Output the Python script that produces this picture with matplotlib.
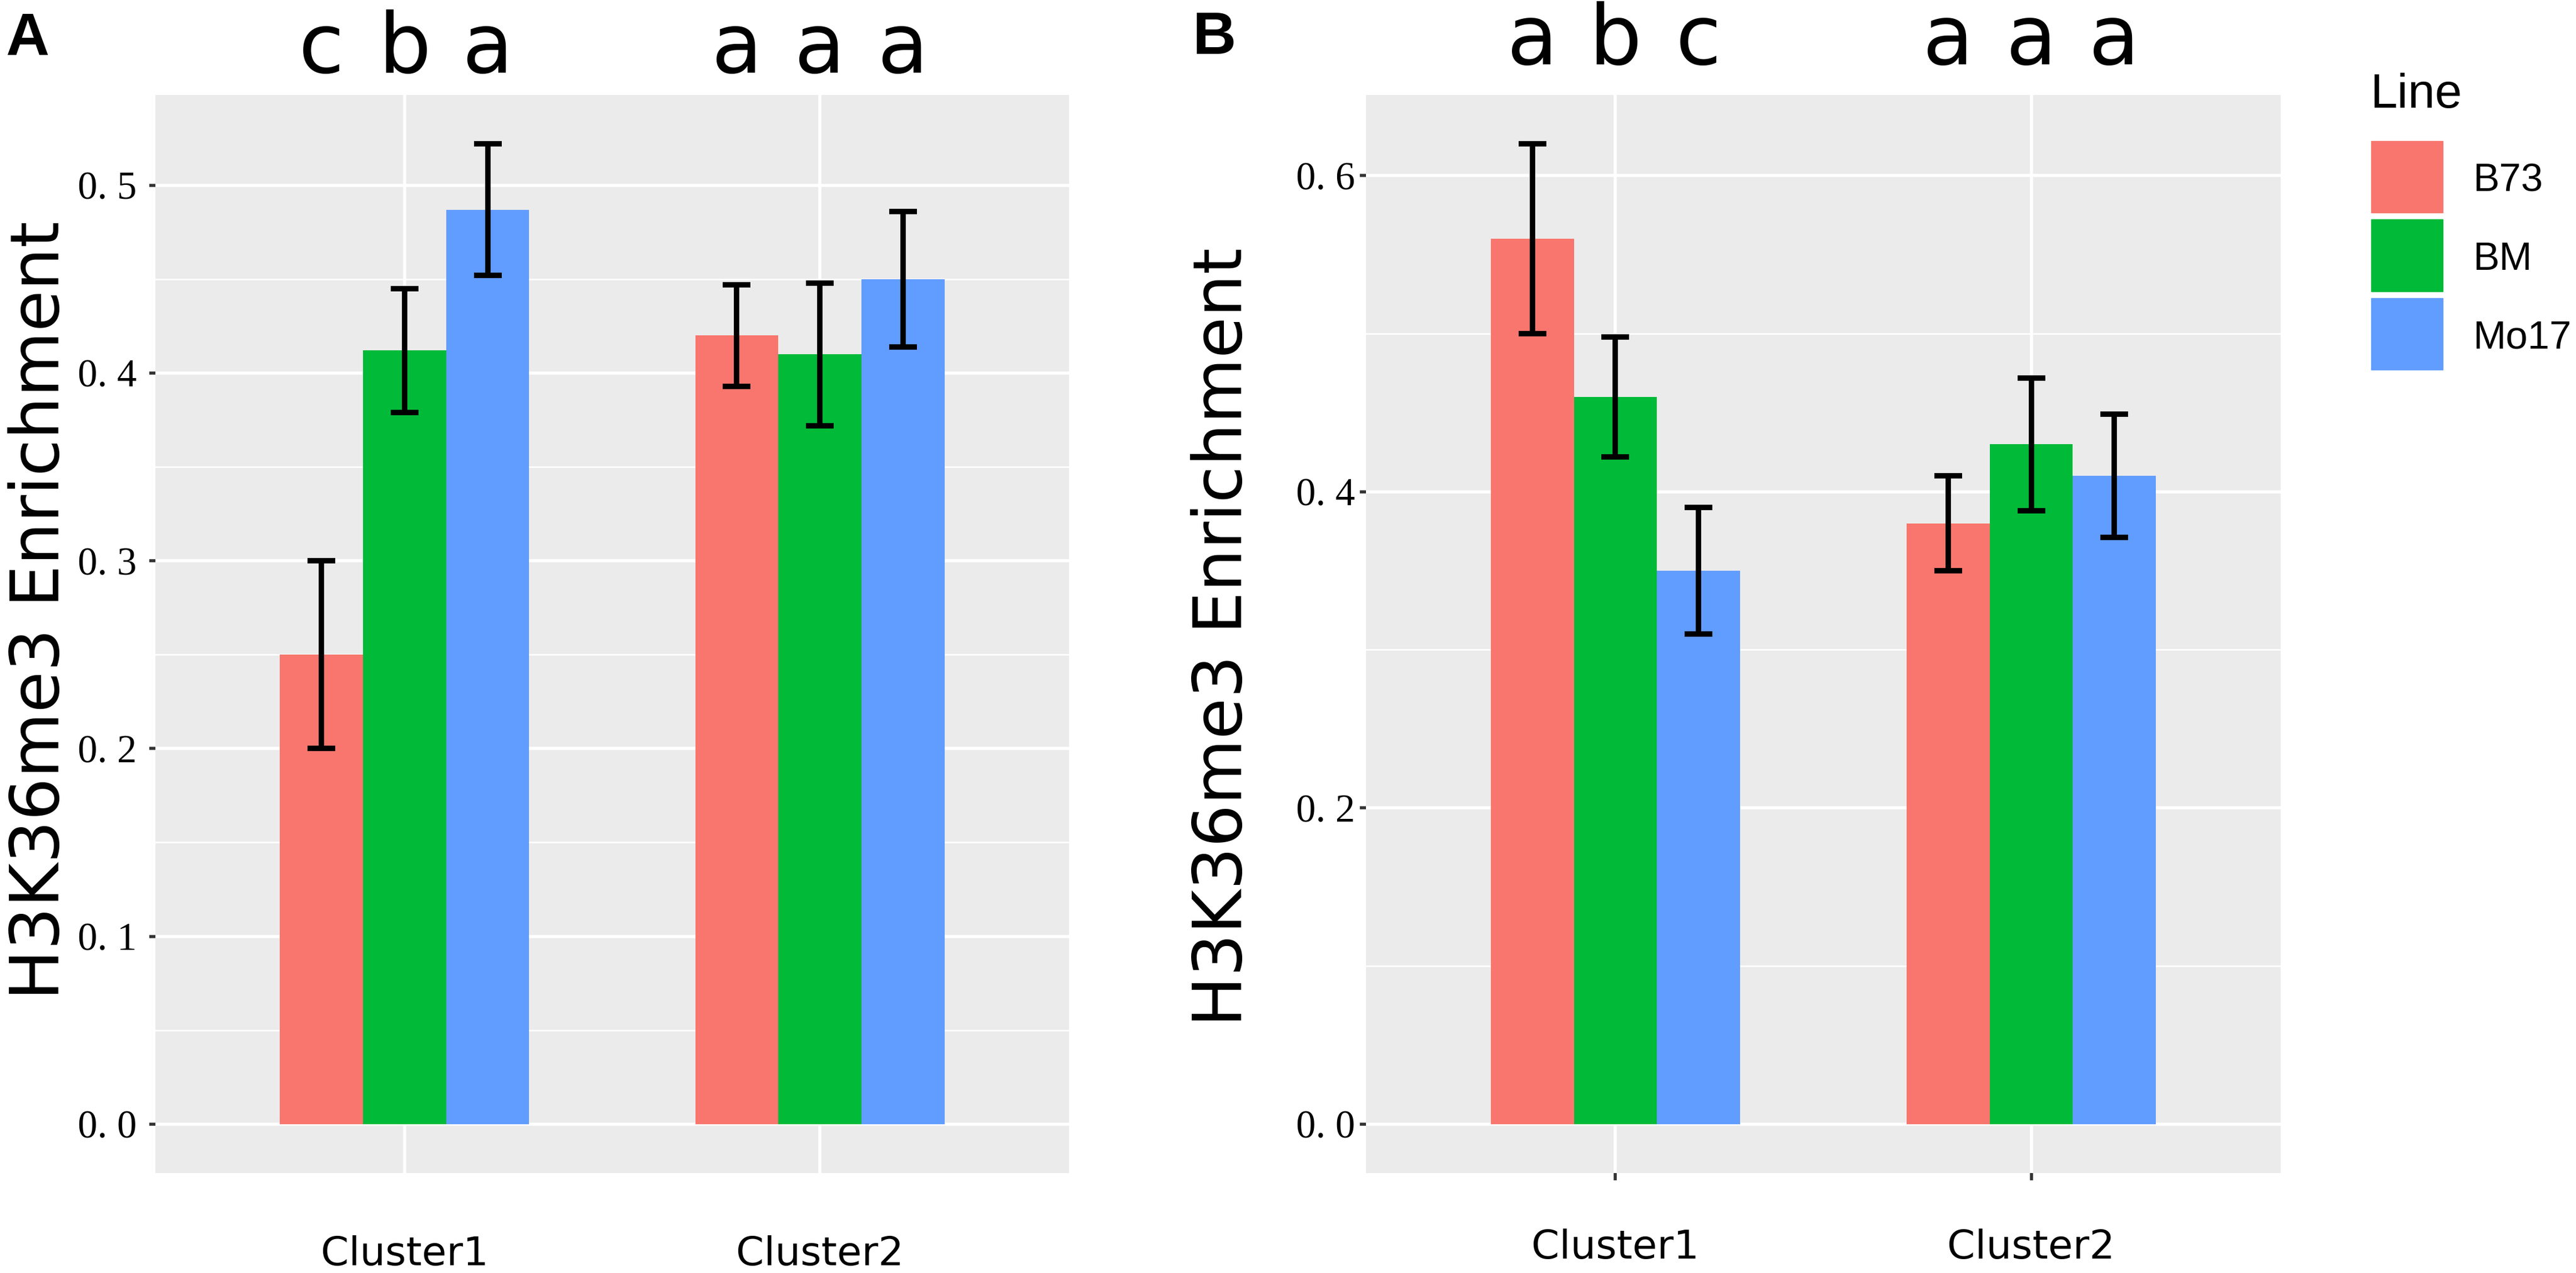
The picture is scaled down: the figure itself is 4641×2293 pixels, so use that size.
import numpy as np
import matplotlib.pyplot as plt
import matplotlib.transforms as mtransforms
from matplotlib.patches import Rectangle
from matplotlib.ticker import FuncFormatter, MultipleLocator

W, H = 4641, 2293
DPI = 100

plt.rcParams['font.family'] = ['DejaVu Sans']

clusters = ["Cluster1", "Cluster2"]
lines = ["B73", "BM", "Mo17"]
colors = ["#F8766D", "#00BA38", "#619CFF"]

# panel A: rows = lines, cols = clusters
a_means = [[0.250, 0.420], [0.412, 0.410], [0.487, 0.450]]
a_errs = [[0.050, 0.027], [0.033, 0.038], [0.035, 0.036]]
a_letters = [["c", "a"], ["b", "a"], ["a", "a"]]

# panel B
b_means = [[0.560, 0.380], [0.460, 0.430], [0.350, 0.410]]
b_errs = [[0.060, 0.030], [0.038, 0.042], [0.040, 0.039]]
b_letters = [["a", "a"], ["b", "a"], ["c", "a"]]


def fx(px):
    return px / W


def fy(py):
    return 1 - py / H


def draw_panel(ax, means, errs, letters, major, minor, letter_base,
               ytick_pad, xtick_len, xtick_pad):
    means = np.array(means)
    errs = np.array(errs)
    xs = np.arange(1, len(clusters) + 1)
    bw = 0.2
    for i, (name, c) in enumerate(zip(lines, colors)):
        xpos = xs + (i - 1) * bw
        ax.bar(xpos, means[i], width=bw, color=c, zorder=2, label=name)
        ax.errorbar(xpos, means[i], yerr=errs[i], fmt='none', ecolor='black',
                    elinewidth=7, capsize=18, capthick=7, zorder=3)
        trans = mtransforms.blended_transform_factory(ax.transData, ax.figure.transFigure)
        for x, lt in zip(xpos, letters[i]):
            ax.text(x, fy(letter_base), lt, transform=trans, ha='center',
                    va='baseline', fontsize=108)

    top = (means + errs).max()
    ax.set_ylim(-0.05 * top, top * 1.05)
    ax.set_xlim(0.4, 2.6)
    ax.set_facecolor("#EBEBEB")
    for s in ax.spines.values():
        s.set_visible(False)
    ax.yaxis.set_major_locator(MultipleLocator(major))
    ax.yaxis.set_minor_locator(MultipleLocator(minor))
    ax.yaxis.set_major_formatter(FuncFormatter(lambda v, p: f"{v:.1f}".replace(".", ". ")))
    ax.grid(which='major', color='white', lw=4)
    ax.grid(which='minor', axis='y', color='white', lw=2)
    ax.set_axisbelow(True)
    ax.set_xticks(xs, clusters)
    ax.tick_params(axis='y', which='major', length=8, width=4, color='#333333',
                   labelsize=51, labelfontfamily='Liberation Serif', pad=ytick_pad,
                   labelcolor='black')
    ax.tick_params(axis='y', which='minor', length=0)
    ax.tick_params(axis='x', length=xtick_len, width=4, color='#333333',
                   labelsize=52, pad=xtick_pad, labelcolor='black')


fig = plt.figure(figsize=(W / DPI, H / DPI), dpi=DPI)

ax_a = fig.add_axes([fx(280), fy(2113), (1926 - 280) / W, (2113 - 171) / H])
draw_panel(ax_a, a_means, a_errs, a_letters, 0.1, 0.05, 131, 16, 0, 81)
ax_a.set_ylabel("H3K36me3 Enrichment", fontsize=87, va='baseline')
ax_a.yaxis.set_label_coords((106 - 280) / 1646, (2113 - 1100) / 1942)

ax_b = fig.add_axes([fx(2461), fy(2113), (4109 - 2461) / W, (2113 - 171) / H])
draw_panel(ax_b, b_means, b_errs, b_letters, 0.2, 0.1, 116, 6, 9, 63)
ax_b.set_ylabel("H3K36me3 Enrichment", fontsize=87, va='baseline')
ax_b.yaxis.set_label_coords((2237 - 2461) / 1648, (2113 - 1148) / 1942)

# panel tags
fig.text(fx(10), fy(99), "A", fontsize=78, fontweight='bold',
         family='Liberation Sans', va='baseline')
fig.text(fx(2149), fy(97), "B", fontsize=78, fontweight='bold',
         family='Liberation Sans', va='baseline')

# legend
fig.text(fx(4271), fy(194), "Line", fontsize=63, family='Liberation Sans', va='baseline')
key = 129
for i, (name, c) in enumerate(zip(lines, colors)):
    ktop = 254 + i * 141.5
    fig.add_artist(Rectangle((fx(4272), fy(ktop + key)), key / W, key / H,
                             color=c, transform=fig.transFigure))
    fig.text(fx(4455), fy(ktop + key / 2 + 26), name, fontsize=51,
             family='Liberation Sans', va='baseline')

fig.savefig("out.png", dpi=DPI)
